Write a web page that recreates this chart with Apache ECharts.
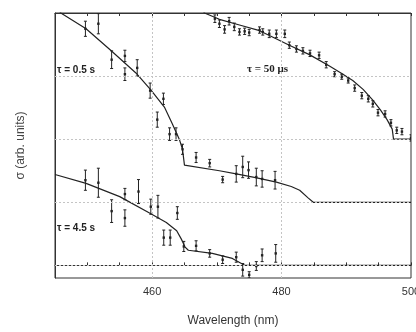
<!DOCTYPE html>
<html>
<head>
<meta charset="utf-8">
<script src="https://cdn.jsdelivr.net/npm/echarts@6/dist/echarts.min.js"></script>
<style>
  html, body { margin: 0; padding: 0; overflow: hidden; background: #fff; }
  #chart { width: 430px; height: 332px; }
</style>
</head>
<body>
<div id="chart"></div>
<script>
// wavelength ticks (nm) that carry a label
const xLabels = [460, 480, 500];
// baselines of the three stacked traces (arb. units)
const baselines = [0, 1, 2, 3];

// fitted curves [nm, sigma]
const fit50us = [[466, 4.3], [468.1, 4.0], [470.4, 3.9], [473.5, 3.81], [476.6, 3.72], [479, 3.6], [481.2, 3.49],
  [484.3, 3.34], [487.4, 3.16], [489.3, 3.04], [491.0, 2.93], [492.6, 2.79], [494.1, 2.62], [495.3, 2.46],
  [496.3, 2.31], [497.1, 2.16], [497.3, 2.0], [500, 2.0]];
const fit05s = [[445, 4.12], [445.9, 4.0], [449.8, 3.75], [453.6, 3.41], [457.5, 3.05], [459.8, 2.78], [461.9, 2.51],
  [463.1, 2.25], [464.2, 2.0], [464.7, 1.84], [465.0, 1.59], [470.4, 1.50], [473.0, 1.45], [476, 1.39],
  [479.2, 1.32], [481.5, 1.25], [482.8, 1.19], [484.1, 1.07], [484.9, 1.0], [500, 1.0]];
const fit45s = [[445, 1.44], [449.8, 1.30], [455.0, 1.09], [459.6, 0.83], [462.2, 0.68], [463.8, 0.55], [464.5, 0.42],
  [465.1, 0.29], [465.6, 0.24], [469.3, 0.19], [472.4, 0.11], [473.8, 0.03], [474.3, 0], [500, 0]];

// measured points [nm, sigma, error]
const pts50us = [[469.7, 3.91, 0.06], [470.4, 3.83, 0.06], [471.2, 3.74, 0.06], [471.9, 3.87, 0.06], [472.7, 3.78, 0.06],
  [473.5, 3.70, 0.05], [474.3, 3.71, 0.05], [475.0, 3.69, 0.05], [476.6, 3.73, 0.05], [477.1, 3.70, 0.05],
  [478.1, 3.67, 0.06], [479.2, 3.67, 0.06], [480.5, 3.67, 0.06], [481.2, 3.49, 0.05], [482.3, 3.43, 0.05],
  [483.3, 3.40, 0.05], [484.4, 3.36, 0.05], [485.8, 3.33, 0.05], [486.9, 3.18, 0.05], [488.2, 3.03, 0.04],
  [489.3, 2.99, 0.04], [490.3, 2.93, 0.04], [491.3, 2.81, 0.05], [492.4, 2.69, 0.05], [493.4, 2.64, 0.05],
  [494.1, 2.56, 0.05], [494.9, 2.42, 0.05], [496.0, 2.40, 0.05], [496.9, 2.26, 0.05], [497.8, 2.14, 0.05],
  [498.6, 2.12, 0.05], [500.0, 2.02, 0.05]];
const pts05s = [[449.7, 3.75, 0.12], [451.7, 3.83, 0.16], [453.75, 3.26, 0.14], [455.8, 3.32, 0.09], [455.8, 3.03, 0.10],
  [457.7, 3.13, 0.13], [459.7, 2.77, 0.12], [460.8, 2.31, 0.12], [461.75, 2.64, 0.09], [462.7, 2.08, 0.10],
  [463.7, 2.08, 0.10], [464.7, 1.84, 0.08], [466.8, 1.71, 0.08], [468.9, 1.62, 0.06], [470.9, 1.36, 0.05],
  [473.0, 1.45, 0.13], [474.0, 1.56, 0.17], [474.9, 1.51, 0.13], [476.1, 1.40, 0.14], [477.0, 1.37, 0.13],
  [479.0, 1.35, 0.14]];
const pts45s = [[449.7, 1.35, 0.16], [451.7, 1.31, 0.23], [453.75, 0.86, 0.18], [455.8, 1.13, 0.09], [455.8, 0.75, 0.13],
  [457.9, 1.17, 0.19], [459.8, 0.93, 0.12], [460.9, 0.93, 0.18], [461.8, 0.44, 0.12], [462.8, 0.44, 0.12],
  [463.9, 0.83, 0.10], [464.9, 0.30, 0.08], [466.8, 0.31, 0.08], [468.9, 0.19, 0.06], [470.9, 0.09, 0.06],
  [473.0, 0.13, 0.08], [474.0, -0.07, 0.10], [475.0, -0.15, 0.05], [476.1, -0.01, 0.07], [477.0, 0.16, 0.10],
  [479.1, 0.19, 0.14]];

const ink = "#222";
const gridGray = "#c4c4c4";

// error bar with caps and a small dot
const errRender = (params, api) => {
  const x = api.value(0), y = api.value(1), e = api.value(2);
  const top = api.coord([x, y + e]);
  const bot = api.coord([x, y - e]);
  const mid = api.coord([x, y]);
  const st = { stroke: ink, lineWidth: 1 };
  return {
    type: "group",
    children: [
      { type: "line", shape: { x1: mid[0], y1: top[1], x2: mid[0], y2: bot[1] }, style: st },
      { type: "line", shape: { x1: mid[0] - 1.5, y1: top[1], x2: mid[0] + 1.5, y2: top[1] }, style: st },
      { type: "line", shape: { x1: mid[0] - 1.5, y1: bot[1], x2: mid[0] + 1.5, y2: bot[1] }, style: st },
      { type: "rect", shape: { x: mid[0] - 1.2, y: mid[1] - 1.2, width: 2.4, height: 2.4 }, style: { fill: ink } },
    ],
  };
};

const fitSeries = (data) => ({
  type: "line", data, showSymbol: false, symbol: "none", smooth: false, clip: true,
  lineStyle: { color: ink, width: 1.2 }, z: 3, silent: true,
});
const ptSeries = (data) => ({
  type: "custom", data, renderItem: errRender, clip: true, z: 4, silent: true,
});

const chart = echarts.init(document.getElementById("chart"));
chart.setOption({
  animation: false,
  backgroundColor: "#fff",
  grid: { left: 55, top: 13, width: 356, height: 272, show: true, borderColor: "#333", borderWidth: 1 },
  xAxis: [
    {
      type: "value", min: 445, max: 500, interval: 5,
      name: "Wavelength (nm)", nameLocation: "middle", nameGap: 37,
      nameTextStyle: { fontFamily: "Liberation Sans", fontSize: 12, color: "#333" },
      axisLine: { lineStyle: { color: "#333" } },
      axisTick: { inside: true, length: 3, lineStyle: { color: "#333" } },
      axisLabel: {
        margin: 8, fontFamily: "Liberation Sans", fontSize: 11, color: "#333",
        formatter: (v) => (xLabels.includes(v) ? String(v) : ""),
      },
      splitLine: { show: false },
    },
    {
      type: "value", position: "top", min: 445, max: 500, interval: 5,
      axisLine: { lineStyle: { color: "#333" } },
      axisTick: { inside: true, length: 3, lineStyle: { color: "#333" } },
      axisLabel: { show: false }, splitLine: { show: false },
    },
  ],
  yAxis: {
    type: "value", min: -0.2, max: 4,
    name: "σ (arb. units)", nameLocation: "middle", nameGap: 28,
    nameTextStyle: { fontFamily: "Liberation Sans", fontSize: 12, color: "#444" },
    axisLine: { show: true, lineStyle: { color: "#333" } },
    axisTick: { show: false }, axisLabel: { show: false }, splitLine: { show: false },
  },
  graphic: [
    { type: "text", left: 57, top: 65, style: { text: "τ = 0.5 s", font: "bold 10px Liberation Sans", fill: ink } },
    { type: "text", left: 247, top: 64, style: { text: "τ = 50 μs", font: "bold 11px Liberation Serif", fill: ink } },
    { type: "text", left: 57, top: 223, style: { text: "τ = 4.5 s", font: "bold 10px Liberation Sans", fill: ink } },
  ],
  series: [
    {
      type: "line", data: [], silent: true,
      markLine: {
        symbol: "none", silent: true, label: { show: false },
        lineStyle: { color: gridGray, type: [2, 2], width: 1 },
        data: baselines.map((b) => ({ yAxis: b })).concat(xLabels.slice(0, 2).map((x) => ({ xAxis: x }))),
      },
    },
    fitSeries(fit50us),
    fitSeries(fit05s),
    fitSeries(fit45s),
    ptSeries(pts50us),
    ptSeries(pts05s),
    ptSeries(pts45s),
  ],
});
</script>
</body>
</html>
